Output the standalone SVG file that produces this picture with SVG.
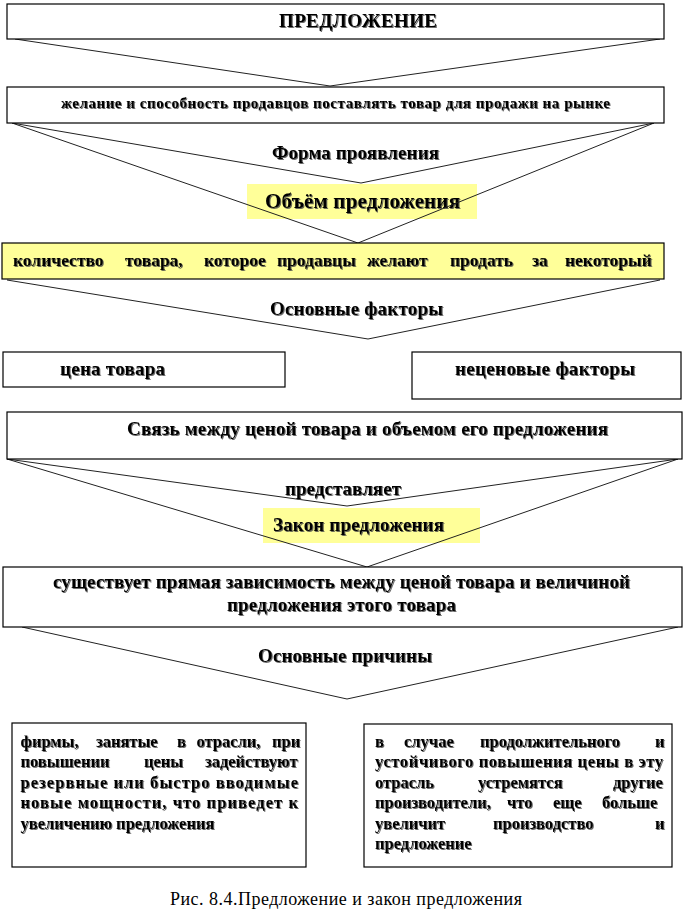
<svg xmlns="http://www.w3.org/2000/svg" width="685" height="918" viewBox="0 0 685 918">
<defs>
<filter id="sh" x="-5%" y="-20%" width="110%" height="140%">
<feDropShadow dx="1" dy="1" stdDeviation="0.3" flood-color="#444" flood-opacity="0.8"/>
</filter>
</defs>
<style>
.box{fill:#fff;stroke:#000;stroke-width:1.2}
.ybox{fill:#FFFF99;stroke:#000;stroke-width:1.2}
.hl{fill:#FFFF99;stroke:none}
.ln{fill:none;stroke:#222;stroke-width:1}
text{font-family:"Liberation Serif","Times New Roman",serif;font-weight:bold;fill:#000}
.t{filter:url(#sh)}
.cap{font-weight:normal}
</style>
<rect width="685" height="918" fill="#fff"/>

<g id="n-obem">
<rect class="hl" x="247" y="184" width="230" height="35"/>
<text class="t" x="265" y="208" font-size="21" textLength="195" lengthAdjust="spacing">Объём предложения</text>
</g>
<g id="n-zakon">
<rect class="hl" x="263" y="508" width="217" height="35"/>
<text class="t" x="273" y="531" font-size="19" textLength="171" lengthAdjust="spacing">Закон предложения</text>
</g>

<g id="connectors">
<polyline class="ln" points="15,39 330,86 660,39"/>
<polyline class="ln" points="12,123 361,183 654,123"/>
<polyline class="ln" points="12,123 358,243 654,123"/>
<polyline class="ln" points="7,280 368,339 660,280"/>
<polyline class="ln" points="7,459 347,506 678,459"/>
<polyline class="ln" points="7,459 367,567 678,459"/>
<polyline class="ln" points="22,627 347,699 678,627"/>
</g>

<g id="n-predl">
<rect class="box" x="7" y="4" width="657" height="35"/>
<text class="t" x="279" y="27" font-size="19" textLength="158" lengthAdjust="spacing">ПРЕДЛОЖЕНИЕ</text>
</g>
<g id="n-zhelanie">
<rect class="box" x="7" y="87" width="657" height="36"/>
<text class="t" x="61" y="108" font-size="15" textLength="549" lengthAdjust="spacing">желание и способность продавцов поставлять товар для продажи на рынке</text>
</g>
<g id="l-forma">
<text class="t" x="272" y="159" font-size="19" textLength="167" lengthAdjust="spacing">Форма проявления</text>
</g>
<g id="n-kolichestvo">
<rect class="ybox" x="2" y="243" width="662" height="36"/>
<text class="t" y="266" font-size="17.5"><tspan x="13">количество</tspan><tspan x="125">товара,</tspan><tspan x="204">которое</tspan><tspan x="277">продавцы</tspan><tspan x="367">желают</tspan><tspan x="450">продать</tspan><tspan x="532">за</tspan><tspan x="565">некоторый</tspan></text>
</g>
<g id="l-faktory">
<text class="t" x="270" y="315" font-size="19" textLength="173" lengthAdjust="spacing">Основные факторы</text>
</g>
<g id="n-cena">
<rect class="box" x="3" y="352" width="282" height="35"/>
<text class="t" x="60" y="375" font-size="19" textLength="105" lengthAdjust="spacing">цена товара</text>
</g>
<g id="n-neceno">
<rect class="box" x="412" y="352" width="269" height="47"/>
<text class="t" x="455" y="375" font-size="19" textLength="180" lengthAdjust="spacing">неценовые факторы</text>
</g>
<g id="n-svyaz">
<rect class="box" x="7" y="412" width="675" height="47"/>
<text class="t" x="127" y="435" font-size="19" textLength="481" lengthAdjust="spacing">Связь между ценой товара и объемом его предложения</text>
</g>
<g id="l-predst">
<text class="t" x="285" y="495" font-size="19" textLength="116" lengthAdjust="spacing">представляет</text>
</g>
<g id="n-sushch">
<rect class="box" x="3" y="567" width="679" height="60"/>
<text class="t" x="53" y="588" font-size="19" textLength="577" lengthAdjust="spacing">существует прямая зависимость между ценой товара и величиной</text>
<text class="t" x="227" y="611" font-size="19" textLength="229" lengthAdjust="spacing">предложения этого товара</text>
</g>
<g id="l-prichiny">
<text class="t" x="258" y="662" font-size="19" textLength="174" lengthAdjust="spacing">Основные причины</text>
</g>
<g id="n-firmy">
<rect class="box" x="12" y="723" width="294" height="144"/>
<text class="t" font-size="16.5"><tspan y="746.5" x="20.5">фирмы,</tspan><tspan y="746.5" x="96">занятые</tspan><tspan y="746.5" x="177">в</tspan><tspan y="746.5" x="196.5">отрасли,</tspan><tspan y="746.5" x="272">при</tspan></text>
<text class="t" font-size="16.5"><tspan y="767" x="20.5">повышении</tspan><tspan y="767" x="144">цены</tspan><tspan y="767" x="205">задействуют</tspan></text>
<text class="t" x="20.5" y="787.5" font-size="16.5" textLength="277.5" lengthAdjust="spacing">резервные или быстро вводимые</text>
<text class="t" x="20.5" y="808" font-size="16.5" textLength="277.5" lengthAdjust="spacing">новые мощности, что приведет к</text>
<text class="t" x="20.5" y="828.5" font-size="16.5">увеличению предложения</text>
</g>
<g id="n-sluchae">
<rect class="box" x="364" y="724" width="308" height="143"/>
<text class="t" font-size="16.5"><tspan y="746.5" x="375">в</tspan><tspan y="746.5" x="404">случае</tspan><tspan y="746.5" x="480">продолжительного</tspan><tspan y="746.5" x="655">и</tspan></text>
<text class="t" x="375" y="767" font-size="16.5" textLength="288" lengthAdjust="spacing">устойчивого повышения цены в эту</text>
<text class="t" font-size="16.5"><tspan y="787.5" x="375">отрасль</tspan><tspan y="787.5" x="478">устремятся</tspan><tspan y="787.5" x="613">другие</tspan></text>
<text class="t" font-size="16.5"><tspan y="808" x="375">производители,</tspan><tspan y="808" x="507">что</tspan><tspan y="808" x="553">еще</tspan><tspan y="808" x="602">больше</tspan></text>
<text class="t" font-size="16.5"><tspan y="828.5" x="375">увеличит</tspan><tspan y="828.5" x="493">производство</tspan><tspan y="828.5" x="655">и</tspan></text>
<text class="t" x="375" y="849" font-size="16.5">предложение</text>
</g>
<g id="caption">
<text class="cap" x="170" y="905" font-size="18" textLength="352" lengthAdjust="spacing">Рис. 8.4.Предложение и закон предложения</text>
</g>
</svg>
